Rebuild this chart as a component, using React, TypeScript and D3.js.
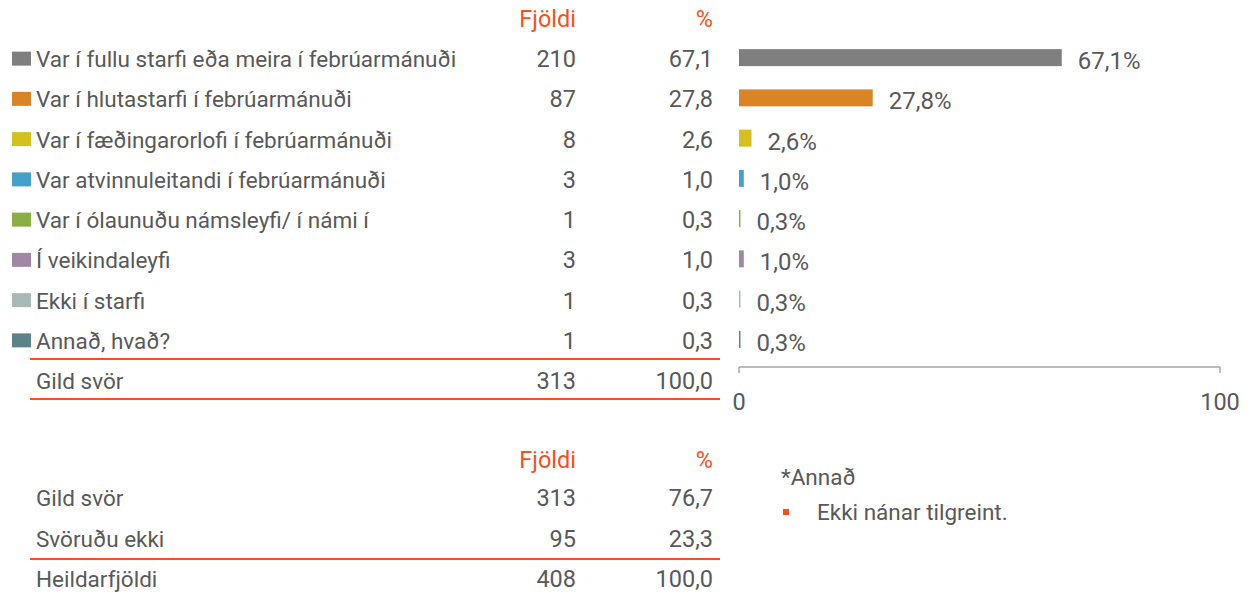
import React from "react";
import * as d3 from "d3";

const categories = [
  "Var í fullu starfi eða meira í febrúarmánuði",
  "Var í hlutastarfi í febrúarmánuði",
  "Var í fæðingarorlofi í febrúarmánuði",
  "Var atvinnuleitandi í febrúarmánuði",
  "Var í ólaunuðu námsleyfi/ í námi í",
  "Í veikindaleyfi",
  "Ekki í starfi",
  "Annað, hvað?",
];
const counts = [210, 87, 8, 3, 1, 3, 1, 1];
const percents = [67.1, 27.8, 2.6, 1.0, 0.3, 1.0, 0.3, 0.3];
const colors = ["#7F7F7F", "#D98427", "#D4C01F", "#45A1C9", "#8BAE45", "#A286A6", "#A8BAB5", "#5B8388"];
const totalLabel = "Gild svör";
const totalCount = 313;
const totalPercent = 100.0;

const summaryLabels = ["Gild svör", "Svöruðu ekki", "Heildarfjöldi"];
const summaryCounts = [313, 95, 408];
const summaryPercents = [76.7, 23.3, 100.0];

const axisTicks = [0, 100];
const headerCount = "Fjöldi";
const headerPct = "%";
const noteTitle = "*Annað";
const noteItems = ["Ekki nánar tilgreint."];

const W = 1256;
const H = 597;
const TEXT = "#595959";
const ACCENT = "#F4511E";
const FONT = "Roboto, 'Open Sans', sans-serif";
const FS = 22.5;
const FSN = 23.5;
const FSV = 24;

const fmt = (v: number) => v.toFixed(1).replace(".", ",");

export default function App() {
  const y = d3.scaleBand<string>().domain(categories).range([39, 361]).padding(0);
  const x = d3.scaleLinear().domain([0, 100]).range([739, 1220]);
  const cy = (c: string) => (y(c) as number) + y.bandwidth() / 2;
  const colCount = 576;
  const colPct = 713;
  const labelX = 36;
  const totalY = 361 + y.bandwidth() / 2;
  const axisY = 367;
  const barH = 17;

  const summaryY = d3.scaleBand<string>().domain(summaryLabels).range([478, 599]);
  const sy = (c: string) => (summaryY(c) as number) + summaryY.bandwidth() / 2;

  return (
    <svg width={W} height={H} style={{ position: "absolute", left: 0, top: 0, fontFamily: FONT }}>
      {/* headers */}
      <text x={colCount} y={19} textAnchor="end" dominantBaseline="central" fill={ACCENT} fontSize={FSN}>{headerCount}</text>
      <text x={colPct} y={19} textAnchor="end" dominantBaseline="central" fill={ACCENT} fontSize={FSN}>{headerPct}</text>

      {categories.map((c, i) => (
        <g key={c}>
          <rect x={12} y={cy(c) - 7.5} width={19} height={14} fill={colors[i]} />
          <text x={labelX} y={cy(c)} dominantBaseline="central" fill={TEXT} fontSize={FS}>{c}</text>
          <text x={colCount} y={cy(c)} textAnchor="end" dominantBaseline="central" fill={TEXT} fontSize={FSN}>{counts[i]}</text>
          <text x={colPct} y={cy(c)} textAnchor="end" dominantBaseline="central" fill={TEXT} fontSize={FSN}>{fmt(percents[i])}</text>
          <rect x={x(0)} y={cy(c) - 1.5 - barH / 2} width={Math.max(1.5, x(percents[i]) - x(0))} height={barH} fill={colors[i]} />
          <text x={x(percents[i]) + 16} y={cy(c) + 2} dominantBaseline="central" fill={TEXT} fontSize={FSV}>{fmt(percents[i])}%</text>
        </g>
      ))}

      {/* total row */}
      <line x1={30} x2={720} y1={359} y2={359} stroke={ACCENT} strokeWidth={2} />
      <text x={labelX} y={totalY} dominantBaseline="central" fill={TEXT} fontSize={FS}>{totalLabel}</text>
      <text x={colCount} y={totalY} textAnchor="end" dominantBaseline="central" fill={TEXT} fontSize={FSN}>{totalCount}</text>
      <text x={colPct} y={totalY} textAnchor="end" dominantBaseline="central" fill={TEXT} fontSize={FSN}>{fmt(totalPercent)}</text>
      <line x1={30} x2={720} y1={399} y2={399} stroke={ACCENT} strokeWidth={2} />

      {/* axis */}
      <g>
        <line x1={x(0)} x2={x(100)} y1={axisY} y2={axisY} stroke="#A6A6A6" strokeWidth={1.5} />
        {axisTicks.map((t) => (
          <g key={t}>
            <line x1={x(t)} x2={x(t)} y1={axisY} y2={axisY + 6} stroke="#A6A6A6" strokeWidth={1.5} />
            <text x={x(t)} y={402} textAnchor="middle" dominantBaseline="central" fill={TEXT} fontSize={FSN}>{t}</text>
          </g>
        ))}
      </g>

      {/* summary table */}
      <text x={colCount} y={460} textAnchor="end" dominantBaseline="central" fill={ACCENT} fontSize={FSN}>{headerCount}</text>
      <text x={colPct} y={460} textAnchor="end" dominantBaseline="central" fill={ACCENT} fontSize={FSN}>{headerPct}</text>
      {summaryLabels.map((s, i) => (
        <g key={s}>
          <text x={labelX} y={sy(s)} dominantBaseline="central" fill={TEXT} fontSize={FS}>{s}</text>
          <text x={colCount} y={sy(s)} textAnchor="end" dominantBaseline="central" fill={TEXT} fontSize={FSN}>{summaryCounts[i]}</text>
          <text x={colPct} y={sy(s)} textAnchor="end" dominantBaseline="central" fill={TEXT} fontSize={FSN}>{fmt(summaryPercents[i])}</text>
        </g>
      ))}
      <line x1={30} x2={720} y1={559} y2={559} stroke={ACCENT} strokeWidth={2} />

      {/* note */}
      <text x={781} y={477} dominantBaseline="central" fill={TEXT} fontSize={FS}>{noteTitle}</text>
      {noteItems.map((n, i) => (
        <g key={n}>
          <rect x={783} y={509 + i * 26} width={6} height={6} fill={ACCENT} />
          <text x={817} y={512 + i * 26} dominantBaseline="central" fill={TEXT} fontSize={FS}>{n}</text>
        </g>
      ))}
    </svg>
  );
}
